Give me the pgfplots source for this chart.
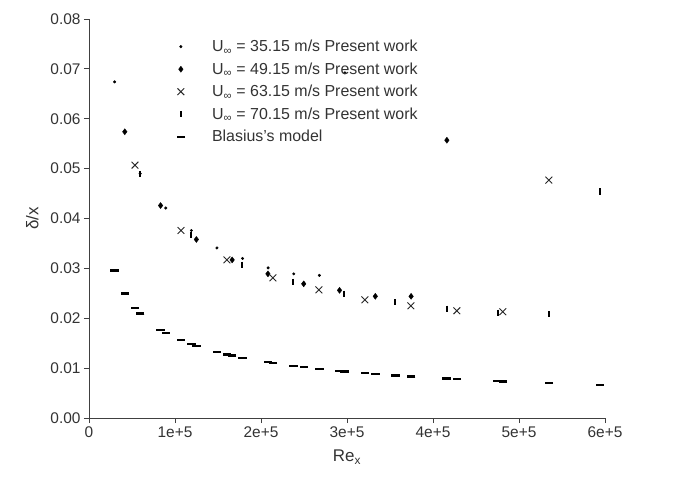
\documentclass[border=0pt]{standalone}
\usepackage{pgfplots}
\pgfplotsset{compat=1.18}
\usepackage{fontspec}
\setmainfont{Liberation Sans}
\begin{document}
\begin{tikzpicture}
\begin{axis}[
  scale only axis, width=516bp, height=399bp,
  xmin=0, xmax=600000, ymin=0, ymax=0.08,
  axis lines=left, axis line style={-, black!75, line width=0.9bp},
  tick style={black!75, line width=0.9bp}, tick align=outside, major tick length=5bp,
  xtick={0,100000,200000,300000,400000,500000,600000},
  xticklabels={0,1e+5,2e+5,3e+5,4e+5,5e+5,6e+5},
  ytick={0,0.01,0.02,0.03,0.04,0.05,0.06,0.07,0.08},
  yticklabels={0.00,0.01,0.02,0.03,0.04,0.05,0.06,0.07,0.08},
  scaled ticks=false,
  ticklabel style={font=\fontsize{15.5}{17}\selectfont, text=black!80},
  xlabel={Re\textsubscript{x}}, ylabel={δ/x},
  label style={font=\fontsize{17}{19}\selectfont, text=black!80},
  xlabel style={yshift=-6bp},
  ylabel style={yshift=5bp},
  legend style={draw=none, fill=none, at={(axis cs:101700,0.0762)}, anchor=north west,
    font=\fontsize{16}{18}\selectfont, text=black!80, row sep=5.5bp, column sep=25bp, inner sep=0pt},
  legend cell align=left,
]
\addplot[only marks, mark=*, mark size=1.3bp, black] coordinates {
(29760,0.0674) (59520,0.0490) (89280,0.0421) (119040,0.0376) (148800,0.0341)
(178560,0.0320) (208320,0.0301) (238080,0.0289) (267840,0.0286) (297600,0.0692)};
\addlegendentry{U\textsubscript{∞} = 35.15 m/s Present work}
\addplot[only marks, mark=diamond*, mark size=3bp, black] coordinates {
(41614,0.0574) (83228,0.0426) (124842,0.0358) (166456,0.0317) (208070,0.0289)
(249684,0.0269) (291298,0.0256) (332912,0.0244) (374526,0.0244) (416140,0.0557)};
\addlegendentry{U\textsubscript{∞} = 49.15 m/s Present work}
\addplot[only marks, mark=x, mark size=4.8bp, black!85, mark options={line width=0.9bp}] coordinates {
(53467,0.0507) (106934,0.0376) (160401,0.0317) (213868,0.0281) (267335,0.0257)
(320802,0.0237) (374269,0.0225) (427736,0.0215) (481203,0.0213) (534670,0.0477)};
\addlegendentry{U\textsubscript{∞} = 63.15 m/s Present work}
\addplot[only marks, mark=|, mark size=3.2bp, black, mark options={line width=2bp}] coordinates {
(59394,0.0489) (118788,0.0367) (178182,0.0307) (237576,0.0273) (296970,0.0249)
(356364,0.0232) (415758,0.0219) (475152,0.0211) (534546,0.0208) (593940,0.0454)};
\addlegendentry{U\textsubscript{∞} = 70.15 m/s Present work}
\addplot[only marks, mark=-, mark size=4.2bp, black, mark options={line width=2.4bp}] coordinates {
(29760,0.02956) (59520,0.02090) (89280,0.01707) (119040,0.01478) (148800,0.01322)
(178560,0.01207) (208320,0.01117) (238080,0.01045) (267840,0.00985) (297600,0.00935)
(41614,0.02500) (83228,0.01768) (124842,0.01443) (166456,0.01250) (208070,0.01118)
(249684,0.01021) (291298,0.00945) (332912,0.00884) (374526,0.00833) (416140,0.00791)
(53467,0.02206) (106934,0.01560) (160401,0.01273) (213868,0.01103) (267335,0.00986)
(320802,0.00900) (374269,0.00834) (427736,0.00780) (481203,0.00735) (534670,0.00697)
(59394,0.02093) (118788,0.01480) (178182,0.01208) (237576,0.01046) (296970,0.00936)
(356364,0.00854) (415758,0.00791) (475152,0.00740) (534546,0.00698) (593940,0.00662)};
\addlegendentry{Blasius's model}
\end{axis}
\pgfresetboundingbox
\path (-89bp,-68bp) rectangle (586bp,418bp);
\end{tikzpicture}
\end{document}
